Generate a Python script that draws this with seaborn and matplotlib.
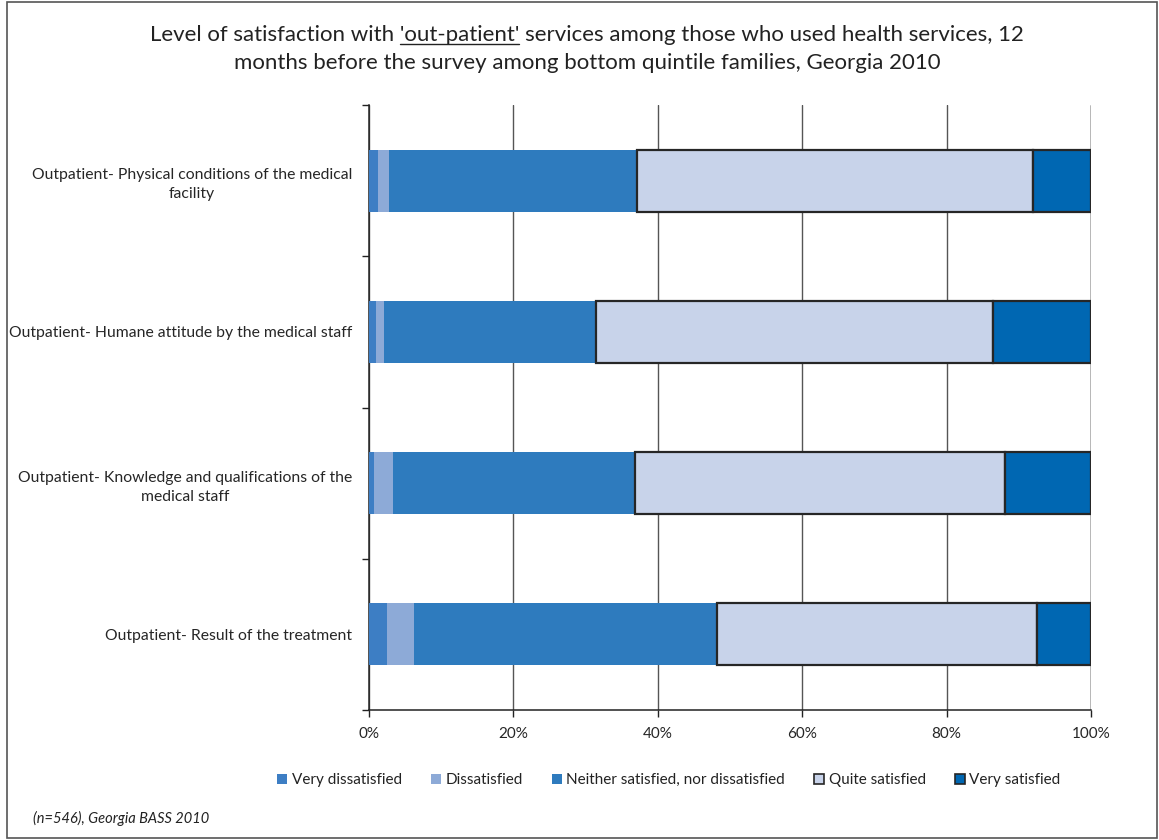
import numpy as np
import matplotlib
matplotlib.use("Agg")
import matplotlib.pyplot as plt
import seaborn as sns
from matplotlib.patches import Patch, Rectangle
from matplotlib.lines import Line2D
from matplotlib.ticker import PercentFormatter

# categories (top to bottom)
categories = [
    "Outpatient- Physical conditions of the medical\nfacility",
    "Outpatient- Humane attitude by the medical staff",
    "Outpatient- Knowledge and qualifications of the\nmedical staff",
    "Outpatient- Result of the treatment",
]

# shares in %
very_dissatisfied = [1.2, 1.0, 0.7, 2.5]
dissatisfied = [1.6, 1.1, 2.6, 3.7]
neither = [34.3, 29.3, 33.6, 42.0]
quite_satisfied = [54.9, 55.0, 51.2, 44.3]
very_satisfied = [8.0, 13.6, 11.9, 7.5]

series_names = ["Very dissatisfied", "Dissatisfied", "Neither satisfied, nor dissatisfied",
                "Quite satisfied", "Very satisfied"]
series_values = [very_dissatisfied, dissatisfied, neither, quite_satisfied, very_satisfied]
series_colors = ["#3D7EC4", "#8DAAD7", "#2E7BBE", "#C8D3EA", "#0067B2"]
series_edges = ["none", "none", "none", "#262626", "#262626"]

sns.set_style("white")
plt.rcParams['font.family'] = ['Lato', 'DejaVu Sans']
plt.rcParams['text.color'] = '#222222'

fig = plt.figure(figsize=(11.59, 8.40), dpi=100)
ax = fig.add_axes([369 / 1159, 1 - 710 / 840, 722 / 1159, 605 / 840])

# stacked horizontal bars
left = np.zeros(len(categories))
for name, vals, col, ec in zip(series_names, series_values, series_colors, series_edges):
    sns.barplot(x=vals, y=categories, orient="h", left=left, color=col, saturation=1,
                width=0.41, errorbar=None, edgecolor=ec, linewidth=1.6 if ec != "none" else 0,
                ax=ax, zorder=3)
    left = left + np.array(vals)

ax.set_xlim(0, 100)
ax.set_ylim(3.5, -0.5)
ax.set_xticks(np.arange(0, 101, 20))
ax.xaxis.set_major_formatter(PercentFormatter(decimals=0))
ax.set_xlabel("")
ax.set_ylabel("")

# grid and spines
ax.grid(axis="x", color="#555555", linewidth=1.0)
ax.grid(axis="y", visible=False)
ax.set_axisbelow(True)
for s in ["top", "right"]:
    ax.spines[s].set_visible(False)
for s in ["left", "bottom"]:
    ax.spines[s].set_color("#222222")
    ax.spines[s].set_linewidth(1.1)
ax.axvline(100, color="#222222", linewidth=1.0, zorder=1)

ax.tick_params(axis="x", which="major", direction="out", length=5, width=1, color="#222222",
               labelsize=11, pad=7, bottom=True)
ax.tick_params(axis="y", which="major", length=0, labelsize=11.3, pad=12)
ax.set_yticks(np.arange(-0.5, 4, 1), minor=True)
ax.tick_params(axis="y", which="minor", direction="out", length=5, width=1, color="#222222", left=True)
for lab in ax.get_yticklabels():
    lab.set_multialignment("center")
    lab.set_linespacing(1.45)

# title with underlined 'out-patient'
line1 = "Level of satisfaction with 'out-patient' services among those who used health services, 12"
line2 = "months before the survey among bottom quintile families, Georgia 2010"
tx = 587 / 1159
tsize = 16
t1 = fig.text(tx, 1 - 35 / 840, line1, ha="center", va="center", fontsize=tsize)
fig.text(tx, 1 - 63 / 840, line2, ha="center", va="center", fontsize=tsize)

renderer = fig.canvas.get_renderer()
bb1 = t1.get_window_extent(renderer)
pre = fig.text(0, 0, "Level of satisfaction with 'out-patient'", fontsize=tsize)
word = fig.text(0, 0, "'out-patient'", fontsize=tsize)
w_pre = pre.get_window_extent(renderer).width
w_word = word.get_window_extent(renderer).width
pre.remove()
word.remove()
x_end = bb1.x0 + w_pre
x_start = x_end - w_word
y_line = bb1.y0 + 1
W, H = fig.bbox.width, fig.bbox.height
fig.add_artist(Line2D([x_start / W, x_end / W], [y_line / H, y_line / H],
                      color="#222222", linewidth=1.0, transform=fig.transFigure))

# legend
handles = [Patch(facecolor=c, edgecolor=(e if e != "none" else c), linewidth=1.2 if e != "none" else 0)
           for c, e in zip(series_colors, series_edges)]
fig.legend(handles, series_names, loc="center", bbox_to_anchor=(669 / 1159, 1 - 780 / 840),
           ncol=5, frameon=False, fontsize=11, handlelength=0.65, handleheight=0.65,
           handletextpad=0.3, columnspacing=1.9)

# footnote
fig.text(33 / 1159, 1 - 818 / 840, "(n=546), Georgia BASS 2010", fontsize=10.5,
         style="italic", ha="left", va="center")

# figure border
fig.add_artist(Rectangle((0.006, 0.002), 0.992, 0.996, transform=fig.transFigure,
                         fill=False, edgecolor="#555555", linewidth=1.2))

fig.savefig("out.png", dpi=100)
